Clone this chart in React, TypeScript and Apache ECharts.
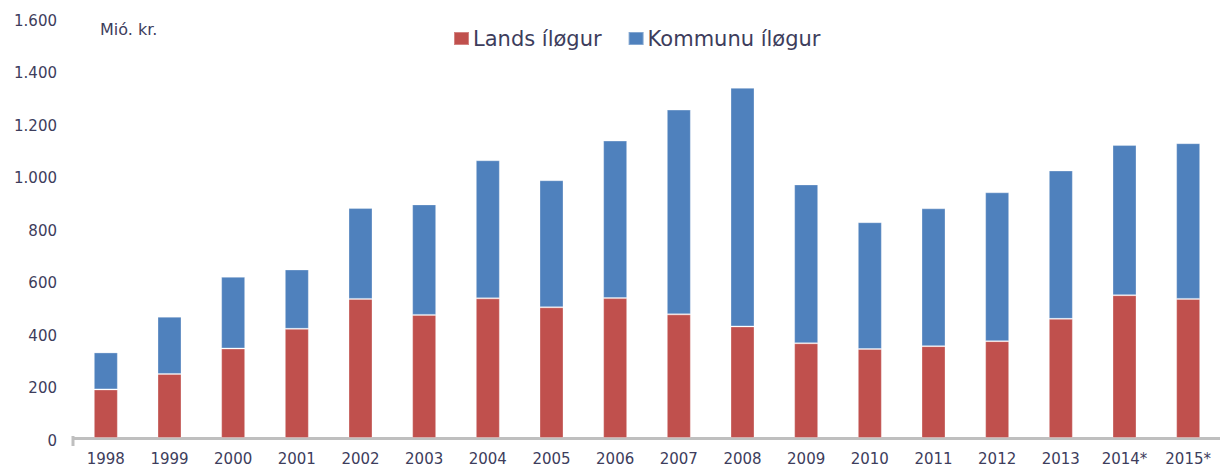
import React, { useEffect, useRef } from "react";
import * as echarts from "echarts";

const years = ["1998", "1999", "2000", "2001", "2002", "2003", "2004", "2005", "2006", "2007", "2008", "2009", "2010", "2011", "2012", "2013", "2014*", "2015*"];
const landsIlogur = [185, 244, 341, 416, 530, 469, 532, 498, 533, 471, 425, 361, 339, 350, 369, 454, 544, 530];
const kommunuIlogur = [141, 218, 273, 226, 346, 421, 526, 484, 600, 780, 909, 605, 483, 525, 567, 565, 572, 593];
const yTicks = { min: 0, max: 1600, interval: 200 };

const TEXT = "#3d3d5c";
const FONT = "'DejaVu Sans', Verdana, sans-serif";

export default function App() {
  const ref = useRef<HTMLDivElement>(null);
  useEffect(() => {
    document.body.style.margin = "0";
    const chart = echarts.init(ref.current!, null, { renderer: "svg" });
    chart.setOption({
      animation: false,
      textStyle: { fontFamily: FONT },
      grid: { left: 74, top: 18, width: 1156, height: 420, containLabel: false },
      legend: {
        left: 453,
        top: 28,
        padding: 0,
        itemWidth: 15,
        itemHeight: 13,
        itemGap: 26,
        icon: "rect",
        textStyle: { fontSize: 21, color: TEXT, fontFamily: FONT, padding: [0, 0, 0, -1] },
        data: ["Lands íløgur", "Kommunu íløgur"],
      },
      graphic: [
        {
          type: "text",
          left: 100,
          top: 21,
          style: { text: "Mió. kr.", fontSize: 16, fill: TEXT, fontFamily: FONT },
        },
        {
          type: "line",
          shape: { x1: 73, y1: 436, x2: 73, y2: 446 },
          style: { stroke: "#bfbfbf", lineWidth: 3 },
        },
      ],
      xAxis: {
        type: "category",
        data: years,
        boundaryGap: true,
        axisLine: { show: true, lineStyle: { color: "#bfbfbf", width: 3 } },
        axisTick: { show: false },
        axisLabel: { color: TEXT, fontSize: 15, fontFamily: FONT, margin: 13 },
      },
      yAxis: {
        type: "value",
        min: yTicks.min,
        max: yTicks.max,
        interval: yTicks.interval,
        axisLine: { show: false },
        axisTick: { show: false },
        splitLine: { show: false },
        axisLabel: {
          color: TEXT,
          fontSize: 15,
          fontFamily: FONT,
          margin: 17,
          verticalAlign: "top",
          lineHeight: 5,
          formatter: (v: number) => String(v).replace(/\B(?=(\d{3})+(?!\d))/g, "."),
        },
      },
      series: [
        {
          name: "Lands íløgur",
          type: "bar",
          stack: "total",
          barWidth: 24,
          data: landsIlogur,
          itemStyle: { color: "#C0504D", borderColor: "rgba(255,255,255,0.3)", borderWidth: 1 },
        },
        {
          name: "Kommunu íløgur",
          type: "bar",
          stack: "total",
          barWidth: 24,
          data: kommunuIlogur,
          itemStyle: { color: "#4F81BD", borderColor: "rgba(255,255,255,0.3)", borderWidth: 1 },
        },
      ],
    });
    return () => chart.dispose();
  }, []);
  return <div ref={ref} style={{ width: 1220, height: 468 }} />;
}
